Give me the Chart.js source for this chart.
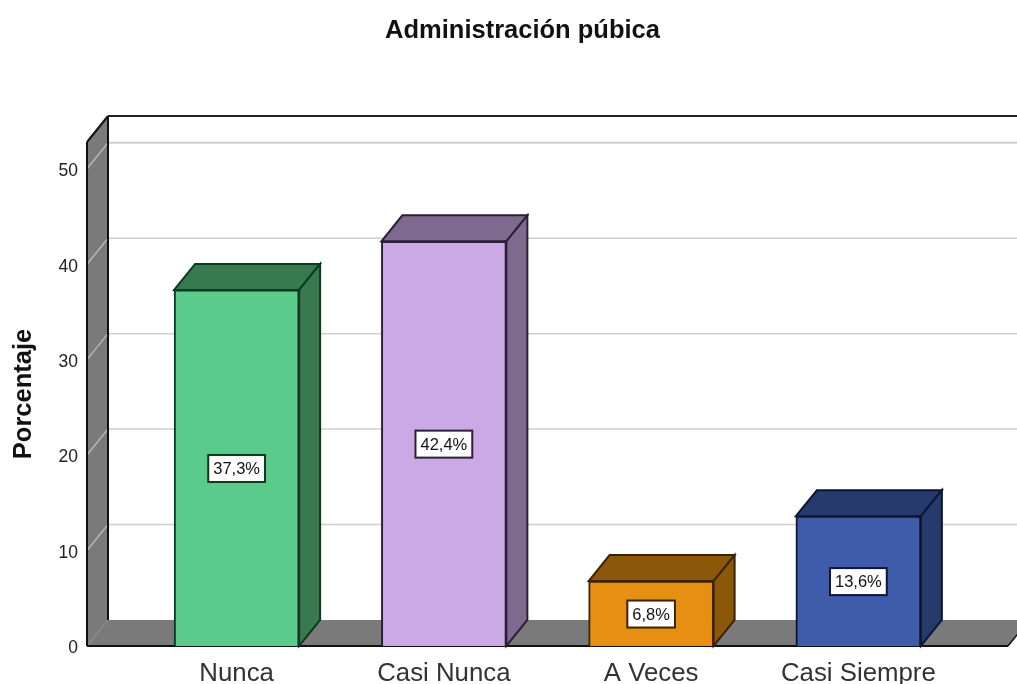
<!DOCTYPE html>
<html>
<head>
<meta charset="utf-8">
<title>Administración púbica</title>
<script src="https://cdn.jsdelivr.net/npm/chart.js@4"></script>
<style>
  html, body { margin: 0; background: #fff; overflow: hidden; }
  canvas { display: block; }
</style>
</head>
<body>
<canvas id="grafico" width="1017" height="684"></canvas>
<script>
const categories = ["Nunca", "Casi Nunca", "A Veces", "Casi Siempre"];
const percentages = [37.3, 42.4, 6.8, 13.6];
const yTicks = [0, 10, 20, 30, 40, 50];
const frontColors = ["#5bcb8b", "#cba9e5", "#e68f12", "#3f5cab"];
const topColors = ["#38794f", "#7f6a8f", "#8b5708", "#263a6c"];
const edgeColors = ["#0c3a20", "#2a1f33", "#3a2400", "#0c1634"];

const depthX = 21;
const depthY = 26;
const wallMargin = 46;
const fontName = '"Liberation Sans", Arial, sans-serif';

function poly(ctx, points, fill, stroke) {
  ctx.beginPath();
  points.forEach((p, i) => (i ? ctx.lineTo(p[0], p[1]) : ctx.moveTo(p[0], p[1])));
  ctx.closePath();
  if (fill) {
    ctx.fillStyle = fill;
    ctx.fill();
  }
  if (stroke) {
    ctx.strokeStyle = stroke;
    ctx.lineWidth = 2;
    ctx.stroke();
  }
}

function line(ctx, x1, y1, x2, y2, color, width) {
  ctx.beginPath();
  ctx.moveTo(x1, y1);
  ctx.lineTo(x2, y2);
  ctx.strokeStyle = color;
  ctx.lineWidth = width;
  ctx.stroke();
}

// Paredes, suelo y caras laterales de las barras
const caja3d = {
  id: "caja3d",
  afterLayout(chart) {
    // el titulo del original no esta centrado en la ventana
    chart.titleBlock.left += 37;
    chart.titleBlock.right += 37;
  },
  beforeDatasetsDraw(chart) {
    const ctx = chart.ctx;
    const y = chart.scales.y;
    const left = chart.chartArea.left - wallMargin;
    const right = chart.chartArea.right + wallMargin;
    const front0 = y.getPixelForValue(0);
    const top = chart.chartArea.top;

    poly(ctx, [[left, top], [left + depthX, top - depthY], [left + depthX, front0 - depthY], [left, front0]], "#7a7a7a");
    poly(ctx, [[left, front0], [left + depthX, front0 - depthY], [right + depthX, front0 - depthY], [right, front0]], "#7a7a7a");

    yTicks.forEach((t) => {
      if (t === 0) return;
      const py = y.getPixelForValue(t);
      line(ctx, left + depthX, py - depthY, right + depthX, py - depthY, "#cfcfcf", t === 50 ? 2 : 1.5);
      line(ctx, left, py, left + depthX, py - depthY, "#b5b5b5", 1.5);
    });

    line(ctx, left, top, left, front0, "#111", 2);
    line(ctx, left, top, left + depthX, top - depthY, "#111", 2);
    line(ctx, left + depthX, top - depthY, left + depthX, front0 - depthY, "#111", 2);
    line(ctx, left + depthX, top - depthY, right + depthX, top - depthY, "#222", 2);
    line(ctx, left, front0, right, front0, "#111", 2);
    line(ctx, right, front0, right + depthX, front0 - depthY, "#111", 1.5);

    chart.getDatasetMeta(0).data.forEach((bar, i) => {
      const l = bar.x - bar.width / 2;
      const r = bar.x + bar.width / 2;
      poly(ctx, [[l, bar.y], [l + depthX, bar.y - depthY], [r + depthX, bar.y - depthY], [r, bar.y]], topColors[i], edgeColors[i]);
      poly(ctx, [[r, bar.y], [r + depthX, bar.y - depthY], [r + depthX, bar.base - depthY], [r, bar.base]], topColors[i], edgeColors[i]);
    });
  },
  afterDatasetsDraw(chart) {
    const ctx = chart.ctx;
    ctx.font = "16.5px " + fontName;
    ctx.textAlign = "center";
    ctx.textBaseline = "middle";
    chart.getDatasetMeta(0).data.forEach((bar, i) => {
      const text = percentages[i].toFixed(1).replace(".", ",") + "%";
      const w = ctx.measureText(text).width + 10;
      const cy = (bar.y + bar.base) / 2 + 0.5;
      ctx.fillStyle = "#fff";
      ctx.fillRect(bar.x - w / 2, cy - 13.5, w, 27);
      ctx.strokeStyle = edgeColors[i];
      ctx.lineWidth = 2;
      ctx.strokeRect(bar.x - w / 2, cy - 13.5, w, 27);
      ctx.fillStyle = "#111";
      ctx.fillText(text, bar.x, cy + 1);
    });
  },
};

new Chart(document.getElementById("grafico"), {
  type: "bar",
  data: {
    labels: categories,
    datasets: [
      {
        label: "Porcentaje",
        data: percentages,
        backgroundColor: frontColors,
        borderColor: edgeColors,
        borderWidth: 2,
        barThickness: 125,
      },
    ],
  },
  plugins: [caja3d],
  options: {
    responsive: false,
    animation: false,
    layout: { padding: { left: 9, right: 55, top: 0, bottom: 0 } },
    plugins: {
      legend: { display: false },
      tooltip: { enabled: false },
      title: {
        display: true,
        text: "Administración púbica",
        color: "#111",
        font: { family: fontName, size: 25.5, weight: "bold" },
        padding: { top: 16, bottom: 95.4 },
      },
    },
    scales: {
      x: {
        grid: { display: false, drawTicks: false },
        border: { display: false },
        afterFit: (s) => { s.height = 38; },
        ticks: {
          color: "#333",
          font: { family: fontName, size: 25.8, lineHeight: 1 },
          padding: 15,
          maxRotation: 0,
          autoSkip: false,
        },
      },
      y: {
        min: 0,
        max: 52.8,
        grid: { display: false, drawTicks: false },
        border: { display: false },
        afterBuildTicks: (s) => { s.ticks = yTicks.map((v) => ({ value: v })); },
        afterFit: (s) => {
          s.width = 124;
          // ticks.padding tambien se suma arriba y abajo del area, se quita
          s.paddingTop = 0;
          s.paddingBottom = 0;
        },
        title: {
          display: true,
          text: "Porcentaje",
          color: "#111",
          font: { family: fontName, size: 25.5, weight: "bold" },
          padding: 0,
        },
        ticks: {
          color: "#222",
          font: { family: fontName, size: 17.5 },
          padding: 55,
          labelOffset: 2.5,
        },
      },
    },
  },
});
</script>
</body>
</html>
